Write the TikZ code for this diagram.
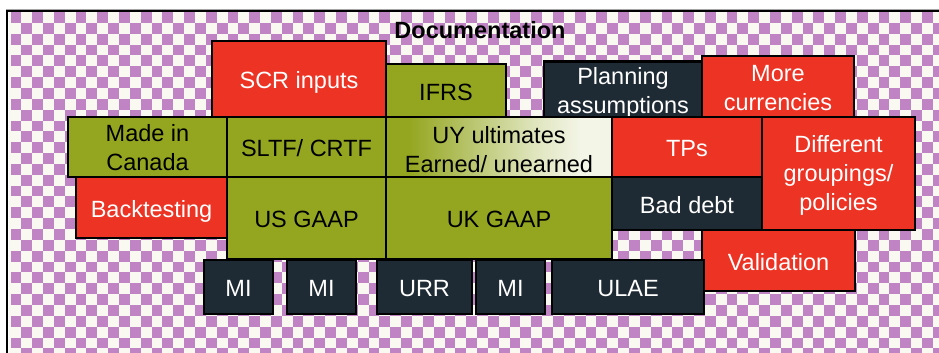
\documentclass[tikz,border=0pt]{standalone}
\usepackage{fontspec}
\setmainfont{Liberation Sans}
\definecolor{boxred}{RGB}{236,51,36}
\definecolor{boxgreen}{RGB}{148,166,32}
\definecolor{boxdark}{RGB}{31,43,52}
\definecolor{checkpurple}{RGB}{192,131,196}
\definecolor{checkcream}{RGB}{249,249,242}
\definecolor{fadecream}{RGB}{243,245,230}
\definecolor{rulegray}{RGB}{165,165,165}
% olive-to-cream fade used by the "UY ultimates" block
\pgfdeclarehorizontalshading{uyfade}{100bp}{%
  color(0bp)=(boxgreen); color(25bp)=(boxgreen); color(30bp)=(boxgreen);
  color(58bp)=(fadecream!80!boxgreen); color(68bp)=(fadecream); color(100bp)=(fadecream)}
% invisible strut that lowers a multi-line label inside its box
\newcommand\lowerby[1]{\rule{0pt}{#1}}
\tikzset{
  box/.style={draw=black, line width=2.8pt, rectangle, inner sep=0pt,
    font=\fontsize{23.5}{29}\selectfont, align=center},
  oneline/.style={text height=19.5pt, text depth=0pt},
  redbox/.style={box, fill=boxred, text=white},
  greenbox/.style={box, fill=boxgreen, text=black},
  darkbox/.style={box, fill=boxdark, text=white},
  fadebox/.style={box, shading=uyfade, text=black},
}
\begin{document}
\begin{tikzpicture}[x=1pt, y=-1pt]
\useasboundingbox (0,0) rectangle (939,353);
\fill[white] (0,0) rectangle (939,353);

% checkered backdrop
\begin{scope}
  \clip (8.5,12) rectangle (939,353);
  \fill[checkcream] (8.5,12) rectangle (939,353);
  \foreach \j in {0,...,31}{
    \foreach \i in {0,...,86}{
      \ifodd\numexpr\i+\j\relax\else
        \fill[checkpurple] ({10.5+\i*10.85},{12+\j*10.85}) rectangle ++(10.85,10.85);
      \fi
    }
  }
\end{scope}

% frame of the panel
\draw[rulegray, line width=1pt] (6,9.2) -- (939,9.2);
\draw[line width=2.4pt] (7.2,360) -- (7.2,11) -- (945,11);

\node[font=\bfseries\fontsize{23.5}{29}\selectfont, anchor=base] (doc) at (480,38) {Documentation};

% top row
\node[redbox, oneline, minimum width=174pt, minimum height=76pt] (scr) at (299,79) {SCR inputs};
\node[greenbox, oneline, minimum width=120pt, minimum height=53pt] (ifrs) at (446,90.5) {IFRS};
\node[darkbox, minimum width=158pt, minimum height=54pt] (plan) at (623,90) {\lowerby{23.2pt}Planning\\assumptions};
\node[redbox, minimum width=152pt, minimum height=61pt] (more) at (778,86.5) {\lowerby{19.4pt}More\\currencies};

% second row
\node[greenbox, minimum width=159pt, minimum height=60pt] (canada) at (147.5,147) {\lowerby{18.8pt}Made in\\Canada};
\node[greenbox, oneline, minimum width=159pt, minimum height=60pt] (sltf) at (306.5,147) {SLTF/ CRTF};
\node[fadebox, minimum width=226pt, minimum height=60pt] (uy) at (499,147) {\lowerby{23.2pt}UY ultimates\\Earned/ unearned};
\node[redbox, oneline, minimum width=150pt, minimum height=60pt] (tps) at (687,147) {TPs};
\node[redbox, minimum width=153pt, minimum height=113pt] (diff) at (838.5,173.5) {\lowerby{20.8pt}Different\\groupings/\\policies};

% third row
\node[redbox, oneline, minimum width=151pt, minimum height=61pt] (back) at (151.5,207.5) {Backtesting};
\node[greenbox, oneline, minimum width=159pt, minimum height=82pt] (usgaap) at (306.5,218) {US GAAP};
\node[greenbox, oneline, minimum width=226pt, minimum height=82pt] (ukgaap) at (499,218) {UK GAAP};
\node[darkbox, oneline, minimum width=150pt, minimum height=53pt] (baddebt) at (687,203.5) {Bad debt};
\node[redbox, oneline, minimum width=153pt, minimum height=61pt] (valid) at (778.5,260.5) {Validation};

% bottom row
\node[darkbox, oneline, minimum width=69pt, minimum height=54pt] (mia) at (238.5,287) {MI};
\node[darkbox, oneline, minimum width=69pt, minimum height=54pt] (mib) at (321.5,287) {MI};
\node[darkbox, oneline, minimum width=95pt, minimum height=54pt] (urr) at (424.5,287) {URR};
\node[darkbox, oneline, minimum width=69pt, minimum height=54pt] (mic) at (510.5,287) {MI};
\node[darkbox, oneline, minimum width=152pt, minimum height=54pt] (ulae) at (628,287) {ULAE};
\end{tikzpicture}
\end{document}
